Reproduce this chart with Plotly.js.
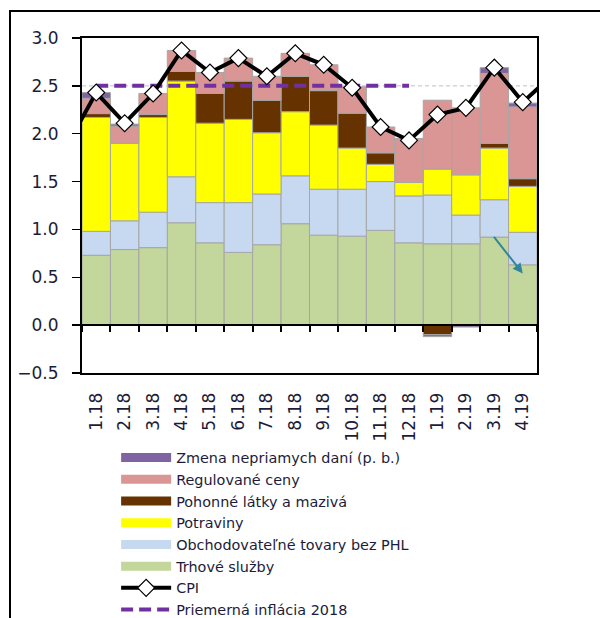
<!DOCTYPE html>
<html>
<head>
<meta charset="utf-8">
<script src="https://cdn.plot.ly/plotly-3.0.1.min.js"></script>
<style>
  html, body { margin: 0; padding: 0; background: #ffffff; }
  #wrap { position: relative; width: 600px; height: 618px; overflow: hidden; }
  #chart { position: absolute; left: 0; top: 0; width: 600px; height: 618px; }
  #frame { position: absolute; left: 9px; top: 10px; width: 600px; height: 620px;
           border-top: 2px solid #000; border-left: 2px solid #000; pointer-events: none; }
</style>
</head>
<body>
<div id="wrap">
  <div id="chart"></div>
  <div id="frame"></div>
</div>
<script>
// ---- data ----
const allCategories = ['12.17','1.18','2.18','3.18','4.18','5.18','6.18','7.18','8.18','9.18','10.18','11.18','12.18','1.19','2.19','3.19','4.19','5.19'];
const months = ['1.18','2.18','3.18','4.18','5.18','6.18','7.18','8.18','9.18','10.18','11.18','12.18','1.19','2.19','3.19','4.19'];

const trhoveSluzby   = [0.73,0.79,0.81,1.07,0.86,0.76,0.84,1.06,0.94,0.93,0.99,0.86,0.85,0.85,0.92,0.63];
const obchodovatelne = [0.25,0.30,0.37,0.48,0.42,0.52,0.53,0.50,0.48,0.49,0.51,0.49,0.51,0.30,0.39,0.34];
const potraviny      = [1.19,0.81,0.99,1.00,0.83,0.87,0.64,0.67,0.67,0.43,0.18,0.14,0.27,0.42,0.54,0.48];
const pohonneLatky   = [0.04,null,0.03,0.10,0.31,0.40,0.34,0.37,0.36,0.365,0.12,null,-0.10,null,0.05,0.08];
const regulovaneCeny = [0.16,0.18,0.22,0.22,0.22,0.24,0.25,0.24,0.27,0.275,0.27,0.46,0.72,0.70,0.73,0.75];
const zmenaDani      = [0.06,0.02,null,null,null,null,null,null,null,null,null,null,-0.02,-0.02,0.06,0.04];
const cpi            = [1.89,2.43,2.11,2.42,2.87,2.64,2.79,2.60,2.84,2.72,2.48,2.07,1.93,2.20,2.27,2.69,2.33,2.60];
const avgMonths      = ['1.18','2.18','3.18','4.18','5.18','6.18','7.18','8.18','9.18','10.18','11.18','12.18'];
const avgInflation2018 = [2.5,2.5,2.5,2.5,2.5,2.5,2.5,2.5,2.5,2.5,2.5,2.5];

const yRange = [-0.5, 3.0];

const names = {
  zmena: 'Zmena nepriamych daní (p. b.)',
  reg: 'Regulované ceny',
  poh: 'Pohonné látky a mazivá',
  pot: 'Potraviny',
  obch: 'Obchodovateľné tovary bez PHL',
  trh: 'Trhové služby',
  cpi: 'CPI',
  avg: 'Priemerná inflácia 2018'
};
const colors = {
  zmena: '#8064A2', reg: '#D99694', poh: '#663300', pot: '#FFFF00',
  obch: '#C6D9F1', trh: '#C3D69B', cpi: '#000000', avg: '#7030A0'
};

const FONT = 'DejaVu Sans, Verdana, sans-serif';
const TXT = '#1c1c3a';

function barTrace(y, key) {
  return {
    type: 'bar', x: months, y: y, name: names[key], legendgroup: key, showlegend: false,
    marker: { color: colors[key], line: { color: '#A6A6A6', width: 1 } },
    hoverinfo: 'x+y+name'
  };
}
function legendDummy(key) {
  return {
    type: 'scatter', mode: 'lines', x: [null], y: [null], name: names[key], legendgroup: key,
    line: { color: colors[key], width: 9 }, hoverinfo: 'skip'
  };
}

const traces = [
  barTrace(trhoveSluzby, 'trh'),
  barTrace(obchodovatelne, 'obch'),
  barTrace(potraviny, 'pot'),
  barTrace(pohonneLatky, 'poh'),
  barTrace(regulovaneCeny, 'reg'),
  barTrace(zmenaDani, 'zmena'),
  legendDummy('zmena'),
  legendDummy('reg'),
  legendDummy('poh'),
  legendDummy('pot'),
  legendDummy('obch'),
  legendDummy('trh'),
  {
    type: 'scatter', mode: 'lines+markers', x: allCategories, y: cpi, name: names.cpi,
    xaxis: 'x2', cliponaxis: true,
    line: { color: '#000', width: 4 },
    marker: { symbol: 'diamond', size: 13, color: '#fff', line: { color: '#000', width: 1.2 } }
  },
  {
    type: 'scatter', mode: 'lines', x: avgMonths, y: avgInflation2018, name: names.avg,
    line: { color: colors.avg, width: 4, dash: '12px,6px' }
  }
];

const zeroPos = (0 - yRange[0]) / (yRange[1] - yRange[0]);
const arrowCat = allCategories.indexOf('4.19');

const layout = {
  width: 600, height: 618,
  margin: { l: 82, r: 63, t: 38, b: 245, autoexpand: false },
  paper_bgcolor: '#ffffff', plot_bgcolor: '#ffffff',
  barmode: 'relative', bargap: 0,
  font: { family: FONT, size: 16, color: TXT },
  showlegend: true,
  legend: {
    x: 0.075, y: -0.205, xanchor: 'left', yanchor: 'top',
    traceorder: 'normal', itemwidth: 50,
    font: { family: FONT, size: 14.4, color: TXT },
    bgcolor: 'rgba(0,0,0,0)', tracegroupgap: 0
  },
  xaxis: {
    type: 'category', categoryorder: 'array', categoryarray: allCategories,
    range: [0.5, 16.5], showline: true, linecolor: '#000', linewidth: 2, mirror: true,
    ticks: '', tickangle: -90, showgrid: false, zeroline: false,
    ticklabelstandoff: 11,
    tickfont: { family: FONT, size: 17, color: TXT }
  },
  xaxis2: {
    type: 'category', categoryorder: 'array', categoryarray: allCategories,
    range: [0.5, 16.5], overlaying: 'x', anchor: 'free', position: zeroPos,
    showline: true, linecolor: '#000', linewidth: 2,
    ticks: 'outside', tickson: 'boundaries', ticklen: 6, tickwidth: 2, tickcolor: '#000',
    showticklabels: false, showgrid: false, zeroline: false
  },
  yaxis: {
    range: yRange, dtick: 0.5, tickformat: '.1f',
    showline: true, linecolor: '#000', linewidth: 2, mirror: true,
    ticks: 'outside', ticklen: 8, tickwidth: 1.5, tickcolor: '#000',
    ticklabelstandoff: 10,
    showgrid: false, zeroline: false,
    tickfont: { family: FONT, size: 17, color: TXT }
  },
  shapes: [
    { type: 'line', xref: 'paper', x0: 0, x1: 1, yref: 'y', y0: avgInflation2018[0], y1: avgInflation2018[0],
      line: { color: '#C0C0C0', width: 1, dash: '4px,3px' }, layer: 'below' }
  ],
  annotations: [
    { x: arrowCat, y: 0.54, xref: 'x', yref: 'y', ax: -30, ay: -38, axref: 'pixel', ayref: 'pixel',
      showarrow: true, arrowhead: 2, arrowsize: 1, arrowwidth: 2, arrowcolor: '#31859C', text: '' }
  ]
};

Plotly.newPlot('chart', traces, layout, { displayModeBar: false, staticPlot: true });
</script>
</body>
</html>
